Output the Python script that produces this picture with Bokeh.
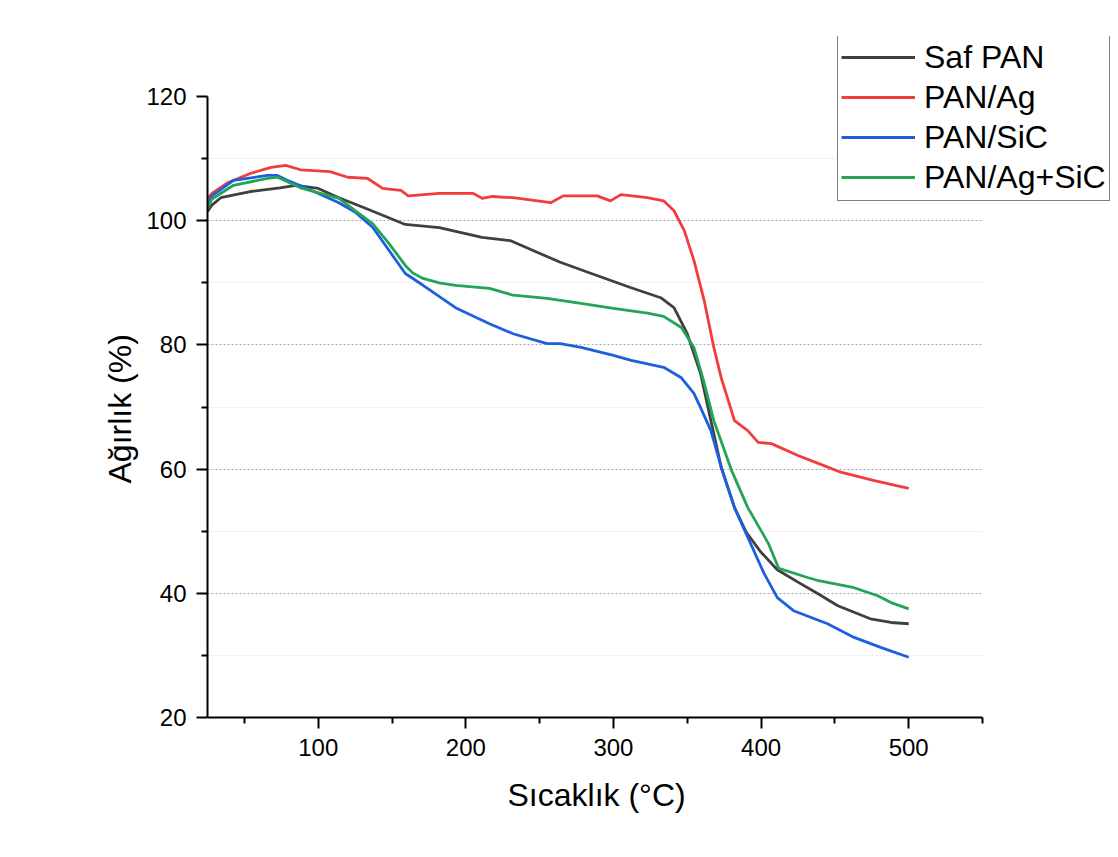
from bokeh.plotting import figure
from bokeh.models import Legend, LegendItem, FixedTicker, Range1d, Title
from bokeh.embed import file_html
from bokeh.resources import INLINE

# ---- data ----
saf_T = [25, 28, 34, 54, 74, 85, 100, 114, 132, 159, 182, 211, 230, 264, 285, 312, 332, 341, 350, 359,
         366, 373, 382, 390, 400, 411, 425, 438, 452, 474, 488, 500]
saf_W = [101.5, 102.5, 103.7, 104.7, 105.3, 105.7, 105.2, 103.7, 102.0, 99.4, 98.9, 97.3, 96.8, 93.3, 91.5,
         89.2, 87.6, 86.0, 81.8, 75.4, 67.8, 60.3, 53.8, 49.8, 46.6, 43.8, 41.8, 40.0, 38.0, 35.9, 35.3, 35.1]

ag_T = [25, 28, 38.5, 54, 68, 78, 88, 108, 120, 133.5, 143.6, 156, 161, 182, 205, 211, 218, 232, 257.5, 266,
        289, 298, 305, 323, 334, 341, 348, 354.5, 361.5, 368, 373, 382, 391, 398, 407, 425, 440, 454, 476, 500]
ag_W = [103.5, 104.4, 106.1, 107.6, 108.6, 108.9, 108.2, 107.9, 107.0, 106.8, 105.2, 104.9, 104.0, 104.4,
        104.4, 103.6, 103.9, 103.7, 102.9, 104.0, 104.0, 103.2, 104.2, 103.7, 103.2, 101.6, 98.4, 93.6, 87.1,
        79.6, 74.7, 67.8, 66.2, 64.3, 64.1, 62.2, 60.8, 59.5, 58.2, 56.9]

sic_T = [25, 28, 42.6, 65.6, 72, 79, 91.4, 114, 125.5, 137, 148, 159, 171, 193, 216, 232, 255, 264, 278, 300,
         312, 334, 346, 354.5, 359, 366, 373, 382, 391, 402, 411, 422, 445, 463, 481, 500]
sic_W = [102.5, 104.0, 106.5, 107.3, 107.3, 106.5, 105.3, 102.9, 101.3, 98.9, 95.2, 91.5, 89.6, 86.0, 83.4,
         81.8, 80.2, 80.2, 79.6, 78.3, 77.5, 76.4, 74.7, 72.2, 69.9, 66.2, 60.3, 53.8, 49.0, 43.2, 39.3, 37.2,
         35.1, 32.9, 31.3, 29.7]

agsic_T = [25, 28, 42.6, 65.6, 72.5, 88, 114, 137, 148, 159, 164, 171, 182, 193, 216, 232, 255, 278, 300, 323,
           334, 346, 354.5, 361, 368, 380, 391, 400, 405, 412, 432, 438, 463, 479, 488, 500]
agsic_W = [102.0, 103.5, 105.7, 106.8, 107.0, 105.3, 103.6, 99.5, 96.3, 92.8, 91.6, 90.7, 90.0, 89.6, 89.1,
           88.0, 87.5, 86.7, 85.9, 85.1, 84.6, 82.8, 79.6, 74.3, 67.8, 59.8, 53.8, 50.1, 48.0, 44.0, 42.5,
           42.1, 40.9, 39.6, 38.5, 37.5]

series_names = ["Saf PAN", "PAN/Ag", "PAN/SiC", "PAN/Ag+SiC"]
series_colors = ["#404040", "#f23d3d", "#1c60de", "#23a457"]

x_bounds = (25, 550)
y_bounds = (20, 120)
x_ticks = [100, 200, 300, 400, 500]
x_minor = [50, 150, 250, 350, 450, 550]
y_ticks = [20, 40, 60, 80, 100, 120]
y_minor = [30, 50, 70, 90, 110]
x_label = "Sıcaklık (°C)"
y_label = "Ağırlık (%)"

FONT = "Liberation Sans"

# frame is enlarged to the top/right so the legend can sit outside the axes box;
# axes are limited with bounds so they look like the reference
W_PX, H_PX = 1118, 857
LEFT, RIGHT, TOP, BOTTOM = 207, 2, 36, 140
axis_w = 775.0
axis_h = 621.0
frame_w = W_PX - LEFT - RIGHT
frame_h = H_PX - TOP - BOTTOM
x_end = x_bounds[0] + frame_w * (x_bounds[1] - x_bounds[0]) / axis_w
y_end = y_bounds[0] + frame_h * (y_bounds[1] - y_bounds[0]) / axis_h

p = figure(width=W_PX, height=H_PX, x_range=Range1d(x_bounds[0], x_end), y_range=Range1d(y_bounds[0], y_end),
           output_backend="svg", toolbar_location=None,
           min_border_left=LEFT, min_border_right=RIGHT, min_border_top=TOP, min_border_bottom=BOTTOM)
p.outline_line_color = None
p.background_fill_color = "white"
p.border_fill_color = "white"

renderers = []
for (T, W), c in zip([(saf_T, saf_W), (ag_T, ag_W), (sic_T, sic_W), (agsic_T, agsic_W)], series_colors):
    r = p.line(T, W, line_color=c, line_width=2.8)
    renderers.append(r)

# axes
for ax in (p.xaxis[0], p.yaxis[0]):
    ax.axis_line_color = "black"
    ax.axis_line_width = 2
    ax.major_tick_line_color = "black"
    ax.major_tick_line_width = 2
    ax.minor_tick_line_color = "black"
    ax.minor_tick_line_width = 2
    ax.major_tick_out = 11
    ax.major_tick_in = 0
    ax.minor_tick_out = 6
    ax.minor_tick_in = 0
    ax.major_label_text_font = FONT
    ax.major_label_text_font_size = "24px"
    ax.major_label_text_color = "black"
    ax.major_label_standoff = 10

p.xaxis[0].bounds = x_bounds
p.yaxis[0].bounds = y_bounds
p.xaxis[0].ticker = FixedTicker(ticks=x_ticks, minor_ticks=x_minor)
p.yaxis[0].ticker = FixedTicker(ticks=y_ticks, minor_ticks=y_minor)

# axis titles (placed along the bounded axes, not the enlarged frame)
xt = Title(text=x_label, align="left", offset=300, standoff=34, vertical_align="middle",
           text_font=FONT, text_font_size="32px", text_font_style="normal", text_color="black")
yt = Title(text=y_label, align="left", offset=234, standoff=10, vertical_align="middle",
           text_font=FONT, text_font_size="32px", text_font_style="normal", text_color="black")
p.add_layout(xt, "below")
p.add_layout(yt, "left")

# grid
p.xgrid.visible = False
g = p.ygrid[0]
g.ticker = FixedTicker(ticks=[40, 60, 80, 100], minor_ticks=y_minor)
g.bounds = y_bounds
g.cross_bounds = x_bounds
g.grid_line_color = "#a8a8a8"
g.grid_line_dash = "2 2"
g.grid_line_width = 1
g.minor_grid_line_color = "#e4e4e4"
g.minor_grid_line_dash = "2 2"

legend = Legend(items=[LegendItem(label=n, renderers=[r]) for n, r in zip(series_names, renderers)],
                location=(630, 516))
legend.border_line_color = "black"
legend.border_line_width = 1
legend.background_fill_color = "white"
legend.background_fill_alpha = 1
legend.label_text_font = FONT
legend.label_text_font_size = "32px"
legend.label_text_color = "black"
legend.glyph_width = 74
legend.glyph_height = 40
legend.label_height = 40
legend.label_standoff = 9
legend.spacing = 0
legend.padding = 3
legend.margin = 0
p.add_layout(legend, "center")

open("out.html", "w").write(file_html(p, INLINE))
